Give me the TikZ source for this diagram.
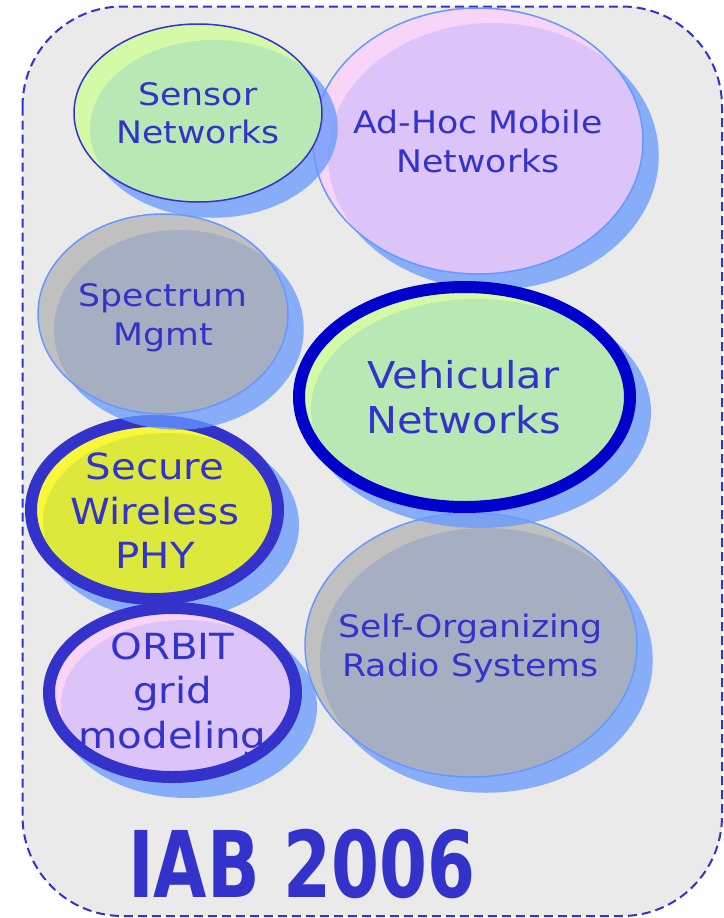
\documentclass[tikz,border=0pt]{standalone}
\usepackage{fontspec}
\newfontfamily\lblfont[FakeStretch=1.12]{DejaVu Sans}
\newfontfamily\ttlfont[FakeStretch=0.75]{DejaVu Sans Bold}
\definecolor{txtblue}{HTML}{3333CC}
\definecolor{darkring}{HTML}{0000CC}
\definecolor{lightring}{HTML}{6699FF}
\definecolor{shadowblue}{HTML}{6699FF}
\definecolor{bggray}{HTML}{EAEAEA}
\definecolor{grnA}{HTML}{D4FAA8}
\definecolor{grnB}{HTML}{B8E8B4}
\definecolor{pnkA}{HTML}{F8D4F8}
\definecolor{pnkB}{HTML}{DCC4F8}
\definecolor{gryA}{HTML}{C0C0C0}
\definecolor{gryB}{HTML}{A6AEC2}
\definecolor{ylwA}{HTML}{F8F838}
\definecolor{ylwB}{HTML}{DCE83C}
\tikzset{
  shadowfill/.style={fill=shadowblue, fill opacity=0.75},
  lblsmall/.style={text=txtblue, font=\lblfont\fontsize{31}{31}\selectfont, anchor=base, inner sep=0pt},
  lblbig/.style={text=txtblue, font=\lblfont\fontsize{36}{36}\selectfont, anchor=base, inner sep=0pt},
  lblveh/.style={text=txtblue, font=\lblfont\fontsize{37}{37}\selectfont, anchor=base, inner sep=0pt},
  frame/.style={draw=txtblue, line width=2pt, dash pattern=on 9pt off 5pt, fill=bggray, rounded corners=100pt},
}
% #1 cx, #2 cy, #3 rx, #4 ry, #5 outer fill, #6 inner fill, #7 ring colour, #8 ring width, #9 inner offset
\newcommand\Bub[9]{%
  \fill[shadowfill] ({#1+15},{#2+15}) ellipse [x radius={#3+#8/2}, y radius={#4+#8/2}];
  \begin{scope}
    \clip (#1,#2) ellipse [x radius=#3, y radius=#4];
    \fill[#5] (#1,#2) ellipse [x radius=#3, y radius=#4];
    \fill[#6] ({#1+#9},{#2+#9}) ellipse [x radius=#3, y radius=#4];
  \end{scope}
  \draw[#7, line width=#8pt] (#1,#2) ellipse [x radius=#3, y radius=#4];
}
\begin{document}
\begin{tikzpicture}[x=1pt,y=-1pt]
\useasboundingbox (0,0) rectangle (723,918);
\path[frame] (22.5,6.5) rectangle (722,916);

% Ad-Hoc Mobile Networks
\Bub{478}{141}{165}{133}{pnkA}{pnkB}{lightring}{1.5}{15}
\node[lblsmall] (adhoc1) at (478,133) {Ad-Hoc Mobile};
\node[lblsmall] (adhoc2) at (478,172) {Networks};

% Self-Organizing Radio Systems
\Bub{471}{645}{166}{132}{gryA}{gryB}{lightring}{1.5}{15}
\node[lblsmall] (self1) at (470.5,637) {Self-Organizing};
\node[lblsmall] (self2) at (470.5,676) {Radio Systems};

% Vehicular Networks
\Bub{464.5}{397}{165.5}{110}{grnA}{grnB}{darkring}{12}{12}
\node[lblveh] (veh1) at (463.5,388) {Vehicular};
\node[lblveh] (veh2) at (463.5,433) {Networks};

% Sensor Networks
\Bub{198}{113}{124}{89}{grnA}{grnB}{txtblue}{1.5}{16}
\node[lblsmall] (sens1) at (198,105) {Sensor};
\node[lblsmall] (sens2) at (198,143) {Networks};

% Secure Wireless PHY
\Bub{154.5}{510}{123.5}{89}{ylwA}{ylwB}{txtblue}{12}{12}
\node[lblbig] (sec1) at (155,479) {Secure};
\node[lblbig] (sec2) at (155,524) {Wireless};
\node[lblbig] (sec3) at (155,568) {PHY};

% Spectrum Mgmt
\Bub{163}{314}{125}{100}{gryA}{gryB}{lightring}{1.5}{16}
\node[lblsmall] (spec1) at (163,306) {Spectrum};
\node[lblsmall] (spec2) at (163,345) {Mgmt};

% ORBIT grid modeling
\Bub{172.5}{692.5}{123.5}{84.5}{pnkA}{pnkB}{txtblue}{12}{12}
\node[lblbig] (orb1) at (172.5,659) {ORBIT};
\node[lblbig] (orb2) at (172.5,703) {grid};
\node[lblbig] (orb3) at (172.5,748) {modeling};

% Title
\node[text=txtblue, font=\ttlfont\fontsize{92}{92}\selectfont, anchor=base west, inner sep=0pt] (title) at (128,897) {IAB 2006};
\end{tikzpicture}
\end{document}
